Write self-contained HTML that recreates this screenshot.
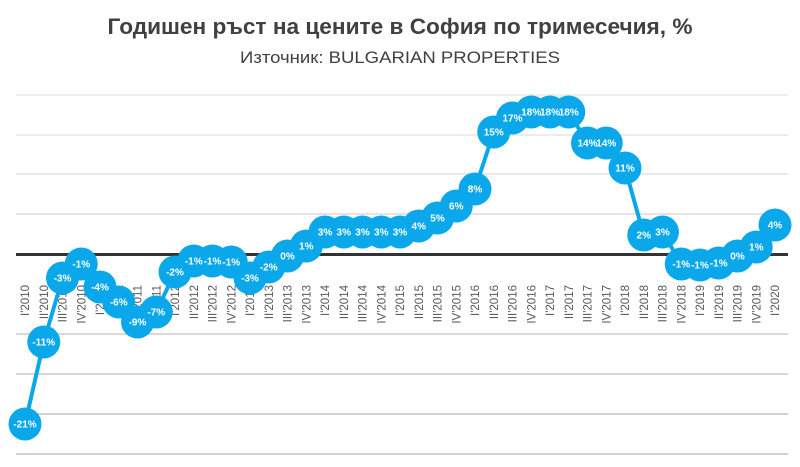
<!DOCTYPE html>
<html><head><meta charset="utf-8"><style>
html,body{margin:0;padding:0;background:#fff}
svg{display:block}
.t{font-family:"Liberation Sans",sans-serif}
.v{font-family:"Liberation Sans",sans-serif;font-size:10px;font-weight:bold;fill:#fff;text-anchor:middle}
.x{font-family:"Liberation Sans",sans-serif;font-size:11.5px;fill:#595959;text-anchor:end}
</style></head><body>
<svg width="800" height="467" viewBox="0 0 800 467">
<text class="t" x="400" y="34" text-anchor="middle" font-size="22" font-weight="bold" fill="#404040" textLength="585" lengthAdjust="spacingAndGlyphs">Годишен ръст на цените в София по тримесечия, %</text>
<text class="t" x="400" y="63" text-anchor="middle" font-size="17" fill="#404040" textLength="320" lengthAdjust="spacingAndGlyphs">Източник: BULGARIAN PROPERTIES</text>
<g stroke-width="1.5">
<line x1="16" y1="95" x2="788" y2="95" stroke="#e8e8e8"/>
<line x1="16" y1="135" x2="788" y2="135" stroke="#e6e6e6"/>
<line x1="16" y1="174" x2="788" y2="174" stroke="#e2e2e2"/>
<line x1="16" y1="214" x2="788" y2="214" stroke="#dcdcdc"/>
<line x1="16" y1="334" x2="788" y2="334" stroke="#cccccc"/>
<line x1="16" y1="374" x2="788" y2="374" stroke="#c8c8c8"/>
<line x1="16" y1="414" x2="788" y2="414" stroke="#c4c4c4"/>
<line x1="16" y1="454" x2="788" y2="454" stroke="#c4c4c4"/>
</g>
<line x1="16" y1="254.5" x2="788" y2="254.5" stroke="#333" stroke-width="3"/>
<g class="x">
<text transform="translate(29,285) rotate(-90)">I'2010</text>
<text transform="translate(47.75,285) rotate(-90)">II'2010</text>
<text transform="translate(66.5,285) rotate(-90)">III'2010</text>
<text transform="translate(85.25,285) rotate(-90)">IV'2010</text>
<text transform="translate(104,285) rotate(-90)">I'2011</text>
<text transform="translate(122.75,285) rotate(-90)">II'2011</text>
<text transform="translate(141.5,285) rotate(-90)">III'2011</text>
<text transform="translate(160.25,285) rotate(-90)">IV'2011</text>
<text transform="translate(179,285) rotate(-90)">I'2012</text>
<text transform="translate(197.75,285) rotate(-90)">II'2012</text>
<text transform="translate(216.5,285) rotate(-90)">III'2012</text>
<text transform="translate(235.25,285) rotate(-90)">IV'2012</text>
<text transform="translate(254,285) rotate(-90)">I'2013</text>
<text transform="translate(272.75,285) rotate(-90)">II'2013</text>
<text transform="translate(291.5,285) rotate(-90)">III'2013</text>
<text transform="translate(310.25,285) rotate(-90)">IV'2013</text>
<text transform="translate(329,285) rotate(-90)">I'2014</text>
<text transform="translate(347.75,285) rotate(-90)">II'2014</text>
<text transform="translate(366.5,285) rotate(-90)">III'2014</text>
<text transform="translate(385.25,285) rotate(-90)">IV'2014</text>
<text transform="translate(404,285) rotate(-90)">I'2015</text>
<text transform="translate(422.75,285) rotate(-90)">II'2015</text>
<text transform="translate(441.5,285) rotate(-90)">III'2015</text>
<text transform="translate(460.25,285) rotate(-90)">IV'2015</text>
<text transform="translate(479,285) rotate(-90)">I'2016</text>
<text transform="translate(497.75,285) rotate(-90)">II'2016</text>
<text transform="translate(516.5,285) rotate(-90)">III'2016</text>
<text transform="translate(535.25,285) rotate(-90)">IV'2016</text>
<text transform="translate(554,285) rotate(-90)">I'2017</text>
<text transform="translate(572.75,285) rotate(-90)">II'2017</text>
<text transform="translate(591.5,285) rotate(-90)">III'2017</text>
<text transform="translate(610.25,285) rotate(-90)">IV'2017</text>
<text transform="translate(629,285) rotate(-90)">I'2018</text>
<text transform="translate(647.75,285) rotate(-90)">II'2018</text>
<text transform="translate(666.5,285) rotate(-90)">III'2018</text>
<text transform="translate(685.25,285) rotate(-90)">IV'2018</text>
<text transform="translate(704,285) rotate(-90)">I'2019</text>
<text transform="translate(722.75,285) rotate(-90)">II'2019</text>
<text transform="translate(741.5,285) rotate(-90)">III'2019</text>
<text transform="translate(760.25,285) rotate(-90)">IV'2019</text>
<text transform="translate(779,285) rotate(-90)">I'2020</text>
</g>
<polyline fill="none" stroke="#0aa8ea" stroke-width="4" stroke-linejoin="round" points="25,424 43.75,342 62.5,278 81.25,264 100,287 118.75,302 137.5,322 156.25,312 175,272 193.75,261 212.5,261 231.25,262 250,278 268.75,267 287.5,256 306.25,246 325,232 343.75,232 362.5,232 381.25,232 400,232 418.75,226 437.5,218 456.25,206 475,189 493.75,132 512.5,118 531.25,112 550,112 568.75,112 587.5,143 606.25,143 625,168 643.75,235 662.5,232 681.25,264 700,265 718.75,263 737.5,256 756.25,247 775,225"/>
<g fill="#0aa8ea">
<circle cx="25" cy="424" r="16.5"/><circle cx="43.75" cy="342" r="16.5"/><circle cx="62.5" cy="278" r="16.5"/><circle cx="81.25" cy="264" r="16.5"/><circle cx="100" cy="287" r="16.5"/><circle cx="118.75" cy="302" r="16.5"/><circle cx="137.5" cy="322" r="16.5"/><circle cx="156.25" cy="312" r="16.5"/><circle cx="175" cy="272" r="16.5"/><circle cx="193.75" cy="261" r="16.5"/><circle cx="212.5" cy="261" r="16.5"/><circle cx="231.25" cy="262" r="16.5"/><circle cx="250" cy="278" r="16.5"/><circle cx="268.75" cy="267" r="16.5"/><circle cx="287.5" cy="256" r="16.5"/><circle cx="306.25" cy="246" r="16.5"/><circle cx="325" cy="232" r="16.5"/><circle cx="343.75" cy="232" r="16.5"/><circle cx="362.5" cy="232" r="16.5"/><circle cx="381.25" cy="232" r="16.5"/><circle cx="400" cy="232" r="16.5"/><circle cx="418.75" cy="226" r="16.5"/><circle cx="437.5" cy="218" r="16.5"/><circle cx="456.25" cy="206" r="16.5"/><circle cx="475" cy="189" r="16.5"/><circle cx="493.75" cy="132" r="16.5"/><circle cx="512.5" cy="118" r="16.5"/><circle cx="531.25" cy="112" r="16.5"/><circle cx="550" cy="112" r="16.5"/><circle cx="568.75" cy="112" r="16.5"/><circle cx="587.5" cy="143" r="16.5"/><circle cx="606.25" cy="143" r="16.5"/><circle cx="625" cy="168" r="16.5"/><circle cx="643.75" cy="235" r="16.5"/><circle cx="662.5" cy="232" r="16.5"/><circle cx="681.25" cy="264" r="16.5"/><circle cx="700" cy="265" r="16.5"/><circle cx="718.75" cy="263" r="16.5"/><circle cx="737.5" cy="256" r="16.5"/><circle cx="756.25" cy="247" r="16.5"/><circle cx="775" cy="225" r="16.5"/>
</g>
<g class="v">
<text x="25" y="427.5">-21%</text><text x="43.75" y="345.5">-11%</text><text x="62.5" y="281.5">-3%</text><text x="81.25" y="267.5">-1%</text><text x="100" y="290.5">-4%</text><text x="118.75" y="305.5">-6%</text><text x="137.5" y="325.5">-9%</text><text x="156.25" y="315.5">-7%</text><text x="175" y="275.5">-2%</text><text x="193.75" y="264.5">-1%</text><text x="212.5" y="264.5">-1%</text><text x="231.25" y="265.5">-1%</text><text x="250" y="281.5">-3%</text><text x="268.75" y="270.5">-2%</text><text x="287.5" y="259.5">0%</text><text x="306.25" y="249.5">1%</text><text x="325" y="235.5">3%</text><text x="343.75" y="235.5">3%</text><text x="362.5" y="235.5">3%</text><text x="381.25" y="235.5">3%</text><text x="400" y="235.5">3%</text><text x="418.75" y="229.5">4%</text><text x="437.5" y="221.5">5%</text><text x="456.25" y="209.5">6%</text><text x="475" y="192.5">8%</text><text x="493.75" y="135.5">15%</text><text x="512.5" y="121.5">17%</text><text x="531.25" y="115.5">18%</text><text x="550" y="115.5">18%</text><text x="568.75" y="115.5">18%</text><text x="587.5" y="146.5">14%</text><text x="606.25" y="146.5">14%</text><text x="625" y="171.5">11%</text><text x="643.75" y="238.5">2%</text><text x="662.5" y="235.5">3%</text><text x="681.25" y="267.5">-1%</text><text x="700" y="268.5">-1%</text><text x="718.75" y="266.5">-1%</text><text x="737.5" y="259.5">0%</text><text x="756.25" y="250.5">1%</text><text x="775" y="228.5">4%</text>
</g>
</svg>
</body></html>
